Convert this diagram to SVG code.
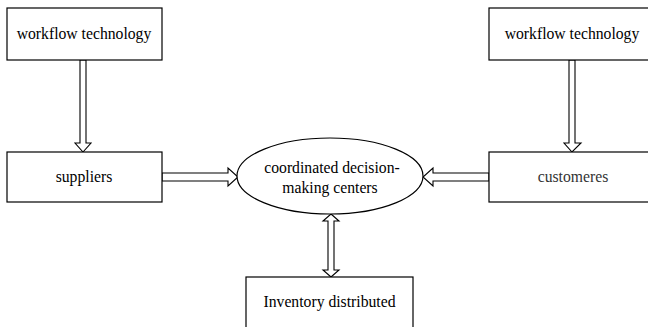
<svg xmlns="http://www.w3.org/2000/svg" width="648" height="327" viewBox="0 0 648 327" font-family="'Liberation Serif', 'Times New Roman', serif">
<style>
.box{fill:#fff;stroke:#000;stroke-width:1.2}
.arr{fill:#fff;stroke:#000;stroke-width:1.1;stroke-linejoin:miter}
.t{font-family:"Liberation Serif","Times New Roman",serif;font-size:15.7px;fill:#000;text-anchor:middle}
</style>
<rect width="648" height="327" fill="#fff"/>
<g id="connectors">
<polygon class="arr" points="80,60 86,60 86,143 91,143 83,152 75,143 80,143"/>
<polygon class="arr" points="569,60 575,60 575,143 581,143 572,152 564,143 569,143"/>
<polygon class="arr" points="162,173 228,173 228,168 238,177 228,186 228,181 162,181"/>
<polygon class="arr" points="489,173 433,173 433,168 423,177 433,186 433,181 489,181"/>
<polygon class="arr" points="331,214 339,221 334,221 334,270 339,270 331,277 323,270 328,270 328,221 323,221"/>
</g>
<g id="wf-left">
<rect class="box" x="7" y="8" width="155" height="52"/>
<text class="t" x="84" y="39" font-family="'Liberation Serif', serif">workflow technology</text>
</g>
<g id="wf-right">
<rect class="box" x="489" y="8" width="165" height="52"/>
<text class="t" x="572" y="39" font-family="'Liberation Serif', serif">workflow technology</text>
</g>
<g id="suppliers">
<rect class="box" x="7" y="152" width="155" height="50"/>
<text class="t" x="84" y="182" font-family="'Liberation Serif', serif">suppliers</text>
</g>
<g id="customeres">
<rect class="box" x="489" y="152" width="165" height="50"/>
<text class="t" x="573" y="182" font-family="'Liberation Serif', serif" style="fill:#333">customeres</text>
</g>
<g id="center">
<ellipse class="box" cx="330" cy="176" rx="93" ry="38"/>
<text class="t" x="332" y="173" font-family="'Liberation Serif', serif">coordinated decision-</text>
<text class="t" x="330" y="193" font-family="'Liberation Serif', serif">making centers</text>
</g>
<g id="inventory">
<rect class="box" x="246" y="277" width="167" height="60"/>
<text class="t" x="329.5" y="307" font-family="'Liberation Serif', serif">Inventory distributed</text>
</g>
</svg>
